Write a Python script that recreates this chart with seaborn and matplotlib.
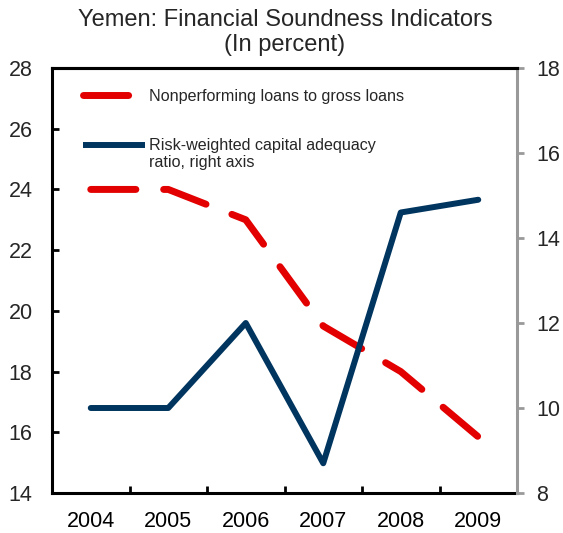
import matplotlib
matplotlib.use("Agg")
import matplotlib.pyplot as plt
import seaborn as sns
import pandas as pd
import numpy as np
from matplotlib.ticker import FixedLocator
from matplotlib.lines import Line2D
from matplotlib.legend_handler import HandlerLine2D

sns.set_theme(style="white")
plt.rcParams['font.family'] = ['Liberation Sans', 'DejaVu Sans']

years = ["2004", "2005", "2006", "2007", "2008", "2009"]
npl = [24.0, 24.0, 23.0, 19.5, 18.0, 15.85]
car = [10.0, 10.0, 12.0, 8.7, 14.6, 14.9]

df = pd.DataFrame({"year": years, "npl": npl, "car": car})

fig = plt.figure(figsize=(5.63, 5.33), dpi=100)
ax = fig.add_axes([52/563, 40/533, (517-52)/563, (493-68)/533])
ax2 = ax.twinx()

red = "#E30000"
blue = "#00355F"
RED_LW = 5.0
BLUE_LW = 4.3
DASH = (6.5, 4.0)

sns.lineplot(data=df, x="year", y="npl", ax=ax, color=red, linewidth=RED_LW,
             sort=False, legend=False)
l1 = ax.lines[-1]
l1.set_dashes(DASH)
l1.set_dash_capstyle("round")

sns.lineplot(data=df, x="year", y="car", ax=ax2, color=blue, linewidth=BLUE_LW,
             sort=False, legend=False)

ax.set_xlim(-0.5, 5.5)
ax.set_ylim(14, 28)
ax2.set_ylim(8, 18)
ax.set_yticks(np.arange(14, 29, 2))
ax2.set_yticks(np.arange(8, 19, 2))
ax.set_xticks(range(len(years)))
ax.set_xticklabels(years)
ax.xaxis.set_minor_locator(FixedLocator(np.arange(-0.5, 6.0, 1.0)))

ax.set_xlabel("")
ax.set_ylabel("")
ax2.set_ylabel("")

FS = 15.5
ax.tick_params(axis="x", which="major", length=0, labelsize=FS, pad=13, colors="black")
ax.tick_params(axis="x", which="minor", direction="in", length=5, width=2, color="black", bottom=True)
ax.tick_params(axis="y", direction="in", length=5, width=2, labelsize=FS, color="black", left=True, pad=14)
ax2.tick_params(axis="y", direction="out", length=5, width=2, labelsize=FS, color="#999999", right=True, pad=9)

for s in ["left", "bottom", "top"]:
    ax.spines[s].set_color("black")
    ax.spines[s].set_linewidth(2.2)
    ax2.spines[s].set_visible(False)
ax.spines["right"].set_visible(False)
ax2.spines["right"].set_color("#999999")
ax2.spines["right"].set_linewidth(2.2)
ax2.spines["top"].set_visible(True)
ax2.spines["top"].set_color("black")
ax2.spines["top"].set_linewidth(2.2)


class ShiftedHandler(HandlerLine2D):
    def __init__(self, dy=0.0, **kw):
        super().__init__(**kw)
        self.dy = dy

    def create_artists(self, legend, orig_handle, xdescent, ydescent, width, height,
                       fontsize, trans):
        arts = super().create_artists(legend, orig_handle, xdescent, ydescent, width,
                                      height, fontsize, trans)
        for a in arts:
            if isinstance(a, Line2D):
                a.set_ydata(np.asarray(a.get_ydata(), dtype=float) + self.dy * fontsize)
        return arts


h1 = Line2D([], [], color=red, linewidth=RED_LW, dash_capstyle="round", solid_capstyle="round")
h1.set_dashes(DASH)
h2 = Line2D([], [], color=blue, linewidth=BLUE_LW, solid_capstyle="butt")
LFS = 11.6
leg = ax2.legend([h1, h2], ["Nonperforming loans to gross loans",
                            "Risk-weighted capital adequacy\nratio, right axis"],
                 handler_map={h1: HandlerLine2D(), h2: ShiftedHandler(dy=0.58)},
                 loc="upper left", bbox_to_anchor=(0.067, 0.951), frameon=False,
                 borderpad=0, borderaxespad=0,
                 fontsize=LFS, handlelength=3.85, handletextpad=0.25, labelspacing=2.1)

fig.text(0.506, 0.984, "Yemen: Financial Soundness Indicators\n(In percent)",
         ha="center", va="top", fontsize=17, linespacing=1.2)

fig.savefig("out.png", dpi=100)
